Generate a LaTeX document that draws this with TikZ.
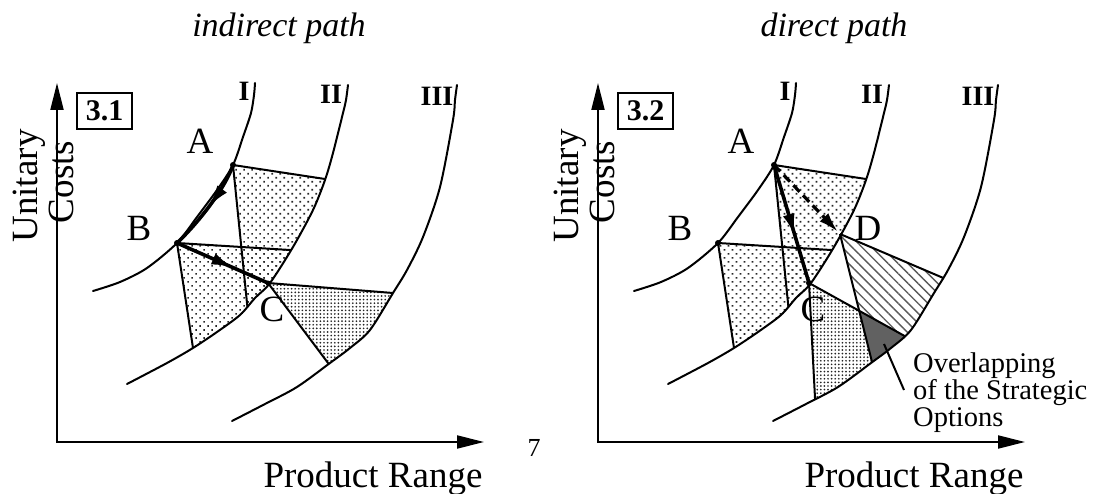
\documentclass[tikz,border=0pt]{standalone}
\usepackage{fontspec}
\setmainfont{Liberation Serif}
\usetikzlibrary{arrows.meta,patterns.meta,decorations.markings,calc}
\begin{document}
\begin{tikzpicture}[x=1pt,y=-1pt,
  curve/.style={line width=2pt,line cap=round,line join=round},
  edgeline/.style={line width=2pt,line join=round},
  axisline/.style={line width=2pt,{Triangle[length=27pt,width=13pt]}-{Triangle[length=27pt,width=13pt]}},
  lbl/.style={font=\fontsize{37}{40}\selectfont,inner sep=0pt},
  axlbl/.style={font=\fontsize{37}{40}\selectfont,inner sep=0pt,anchor=base},
  romanlbl/.style={font=\fontsize{28}{30}\selectfont\bfseries,inner sep=0pt},
  boxlbl/.style={draw,line width=2.5pt,minimum width=55pt,minimum height=36pt,inner sep=0pt,font=\fontsize{30}{32}\selectfont\bfseries},
  titlelbl/.style={font=\fontsize{34}{36}\selectfont\itshape,inner sep=0pt,anchor=base},
  smalllbl/.style={font=\fontsize{28.5}{27}\selectfont,inner sep=0pt,anchor=north west,align=left},
  dotsA/.style={pattern={Dots[angle=45,distance=5.66pt,radius=1.2pt]},pattern color=black!85},
  dotsC/.style={pattern={Dots[distance=3.6pt,radius=0.95pt]},pattern color=black!85},
  hatchD/.style={pattern={Lines[angle=-45,distance=7pt,line width=1.4pt]},pattern color=black!65},
  overlapfill/.style={fill=black!62},
  bigarrow/.style={line width=3.6pt,postaction={decorate},decoration={markings,mark=at position #1 with {\arrow{Latex[length=22pt,width=12pt]}}}},
  dasharrow/.style={line width=3.2pt,dash pattern=on 9pt off 5pt,-{Latex[length=20pt,width=12pt]},shorten >=3pt},
  leader/.style={line width=2pt},
  dotmark/.style={fill=black}
]
\useasboundingbox (0,0) rectangle (1097,494);

\def\curveI{plot[smooth] coordinates {(255,83) (254,95) (251,113) (243,137) (233,165) (217,190) (197,217) (177,243) (147,268) (120,282) (93,291)}}
\def\curveII{plot[smooth] coordinates {(348,85) (346,100) (343,113) (333,153) (325,180) (313,210) (293,247) (270,283) (255,298) (240,315) (217,332) (193,348) (167,363) (127,384)}}
\def\curveIII{plot[smooth] coordinates {(457,85) (455,100) (453,120) (440,187) (423,237) (407,270) (393,293) (370,330) (350,348) (330,363) (297,387) (265,404) (232,421)}}
\def\clipII{\curveII -- (-60,384) -- (-60,-60) -- (348,-60) -- cycle}
\def\clipIII{\curveIII -- (-60,421) -- (-60,-60) -- (457,-60) -- cycle}

\newcommand\mypanel{%
  \coordinate (A) at (233,165);
  \coordinate (B) at (177,243);
  \coordinate (C) at (268,283);
  \coordinate (Pa) at (325,179);
  \coordinate (Qa) at (247,303);
  \coordinate (Pb) at (290,250);
  \coordinate (Qb) at (193,348);
  \coordinate (O) at (57,442);
  \coordinate (Ytip) at (57,83);
  \coordinate (Xtip) at (484,442);
  \begin{scope}
    \clip \clipII;
    \path[dotsA] (A) -- ($(A)!1.6!(Pa)$) -- (420,340) -- ($(A)!1.6!(Qa)$) -- cycle;
    \path[dotsA] (B) -- ($(B)!1.5!(Pb)$) -- (360,420) -- ($(B)!1.5!(Qb)$) -- cycle;
    \draw[edgeline] (A) -- ($(A)!1.6!(Pa)$) (A) -- ($(A)!1.6!(Qa)$);
    \draw[edgeline] (B) -- ($(B)!1.5!(Pb)$) (B) -- ($(B)!1.5!(Qb)$);
  \end{scope}
}
\newcommand\mycurves{%
  \draw[curve] \curveI;
  \draw[curve] \curveII;
  \draw[curve] \curveIII;
  \draw[axisline] (Ytip) -- (O) -- (Xtip);
  \node[romanlbl] (lI) at (244,91) {I};
  \node[romanlbl] (lII) at (331,94) {II};
  \node[romanlbl] (lIII) at (437,96) {III};
  \node[lbl] (labA) at (200,141) {A};
  \node[lbl] (labB) at (139,228) {B};
  \node[lbl] (labC) at (272,309) {C};
  \node[axlbl,rotate=90] (uc1) at (37,186) {Unitary};
  \node[axlbl,rotate=90] (uc2) at (73,182) {Costs};
  \node[axlbl] (pr) at (373,487) {Product Range};
}

\node[titlelbl] (t1) at (279,37) {indirect path};
\node[titlelbl] (t2) at (834,37) {direct path};
\node[font=\fontsize{26}{28}\selectfont,inner sep=0pt,anchor=base] (seven) at (534,456) {7};

% ---------- left panel ----------
\begin{scope}
  \mypanel
  \coordinate (Pc) at (393,293);
  \coordinate (Qc) at (328,363);
  \begin{scope}
    \clip \clipIII;
    \path[dotsC] (C) -- ($(C)!1.5!(Pc)$) -- (480,460) -- ($(C)!1.5!(Qc)$) -- cycle;
    \draw[edgeline] (C) -- ($(C)!1.5!(Pc)$) (C) -- ($(C)!1.5!(Qc)$);
  \end{scope}
  \mycurves
  \node[boxlbl] (box1) at (104.5,111) {3.1};
  \draw[bigarrow=0.5] (A) .. controls (226,186) and (202,219) .. (B);
  \draw[bigarrow=0.62] (B) -- (C);
  \fill[dotmark] (A) circle (3pt);
  \fill[dotmark] (B) circle (3pt);
  \fill[dotmark] (C) circle (2.5pt);
\end{scope}

% ---------- right panel ----------
\begin{scope}[xshift=541pt]
  \mypanel
  \coordinate (D) at (299,234);
  \coordinate (F1) at (360,334);
  \coordinate (F2) at (274,398);
  \coordinate (E1) at (400,277);
  \coordinate (E2) at (331,362);
  \begin{scope}
    \clip \clipIII;
    \path[dotsC] (C) -- ($(C)!1.5!(F1)$) -- (460,470) -- ($(C)!1.5!(F2)$) -- cycle;
    \path[hatchD] (D) -- ($(D)!1.5!(E1)$) -- (490,450) -- ($(D)!1.5!(E2)$) -- cycle;
    \begin{scope}
      \clip (C) -- ($(C)!1.5!(F1)$) -- (460,470) -- ($(C)!1.5!(F2)$) -- cycle;
      \path[overlapfill] (D) -- ($(D)!1.5!(E1)$) -- (490,450) -- ($(D)!1.5!(E2)$) -- cycle;
    \end{scope}
    \draw[edgeline] (C) -- ($(C)!1.5!(F1)$) (C) -- ($(C)!1.5!(F2)$);
    \draw[edgeline] (D) -- ($(D)!1.5!(E1)$) (D) -- ($(D)!1.5!(E2)$);
  \end{scope}
  \mycurves
  \node[boxlbl] (box2) at (104.5,111) {3.2};
  \node[lbl] (labD) at (327,228) {D};
  \draw[bigarrow=0.6] (A) -- (C);
  \draw[dasharrow] (A) -- (D);
  \fill[dotmark] (A) circle (3pt);
  \fill[dotmark] (B) circle (3pt);
  \fill[dotmark] (C) circle (3pt);
  \coordinate (L1) at (343,344);
  \coordinate (L2) at (363,390);
  \draw[leader] (L1) -- (L2);
  \node[smalllbl] (ovtext) at (372,353) {Overlapping\\of the Strategic\\Options};
\end{scope}
\end{tikzpicture}
\end{document}
